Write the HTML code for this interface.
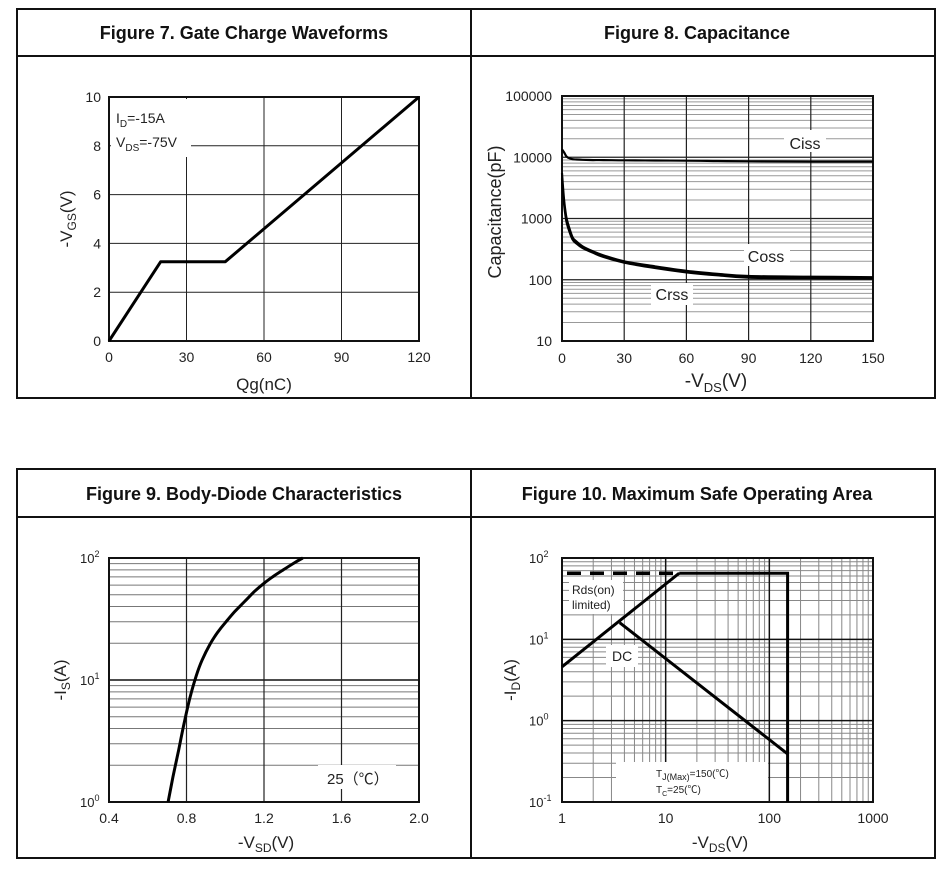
<!DOCTYPE html>
<html><head><meta charset="utf-8">
<style>
html,body{margin:0;padding:0;background:#fff;}
svg{display:block;font-family:"Liberation Sans","Noto Sans CJK SC",sans-serif;}
</style></head>
<body>
<svg id="root" width="952" height="886" viewBox="0 0 952 886" xmlns="http://www.w3.org/2000/svg">
<rect x="0" y="0" width="952" height="886" fill="#fff"/>
<g fill="none" stroke="#111" stroke-width="2">
<rect x="17" y="9" width="918" height="389"/>
<line x1="17" y1="56" x2="935" y2="56"/>
<line x1="471" y1="9" x2="471" y2="398"/>
</g>
<g fill="none" stroke="#111" stroke-width="2">
<rect x="17" y="469" width="918" height="389"/>
<line x1="17" y1="517" x2="935" y2="517"/>
<line x1="471" y1="469" x2="471" y2="858"/>
</g>
<g font-weight="bold" font-size="18" text-anchor="middle" fill="#111">
<text x="244" y="39">Figure 7. Gate Charge Waveforms</text>
<text x="697" y="39">Figure 8. Capacitance</text>
<text x="244" y="500">Figure 9. Body-Diode Characteristics</text>
<text x="697" y="500">Figure 10. Maximum Safe Operating Area</text>
</g>
<g id="c7"></g>
<g id="c8"></g>
<g id="c9"></g>
<g id="c10"></g>
</svg>
<script>
// ---- Figure 7 data ----
const qgTicks = [0, 30, 60, 90, 120];
const vgsTicks = [0, 2, 4, 6, 8, 10];
const qgValues = [0, 20, 45, 120];
const vgsValues = [0, 3.25, 3.25, 10];
// ---- Figure 8 data ----
const vdsTicks8 = [0, 30, 60, 90, 120, 150];
const capTicks = [10, 100, 1000, 10000, 100000];
const capTickLabels = ['10', '100', '1000', '10000', '100000'];
const capVds = [0, 1, 2, 3, 5, 7, 10, 15, 20, 30, 45, 60, 75, 90, 120, 150];
const cissValues = [13500, 12000, 10500, 9800, 9300, 9200, 9100, 9000, 9000, 8900, 8850, 8800, 8700, 8600, 8500, 8500];
const cossValues = [5500, 2000, 1100, 800, 500, 420, 350, 290, 250, 200, 165, 140, 125, 115, 112, 110];
const crssValues = [4500, 1700, 950, 700, 460, 390, 330, 275, 235, 190, 155, 132, 118, 108, 106, 105];
// ---- Figure 9 data ----
const vsdTicks = [0.4, 0.8, 1.2, 1.6, 2.0];
const isTicks = [1, 10, 100];
const isTickExp = ['0', '1', '2'];
const vsdValues = [0.705, 0.73, 0.76, 0.79, 0.82, 0.85, 0.88, 0.92, 0.96, 1.0, 1.05, 1.1, 1.15, 1.2, 1.25, 1.3, 1.35, 1.4];
const isValues = [1, 1.6, 2.7, 4.6, 7.4, 10.8, 14.5, 19.5, 24.5, 29.5, 36.5, 44, 53, 62, 71, 80, 90, 100];
// ---- Figure 10 data ----
const vdsTicks10 = [1, 10, 100, 1000];
const idTicks = [0.1, 1, 10, 100];
const idTickExp = ['-1', '0', '1', '2'];
const rdsVds = [1, 13.5];
const rdsId = [4.6, 65];
const limitVds = [13.5, 150, 150];
const limitId = [65, 65, 0.1];
const dashVds = [1, 13.5];
const dashId = [65, 65];
const dcVds = [3.6, 150];
const dcId = [16, 0.39];

const NS = 'http://www.w3.org/2000/svg';
function mk(parent, tag, attrs, text) {
  const e = document.createElementNS(NS, tag);
  for (const k in attrs) e.setAttribute(k, attrs[k]);
  if (text !== undefined) e.textContent = text;
  parent.appendChild(e);
  return e;
}
function linAxis(d0, d1, r0, r1) { return v => r0 + (v - d0) / (d1 - d0) * (r1 - r0); }
function logAxis(d0, d1, r0, r1) { return v => r0 + (Math.log10(v) - Math.log10(d0)) / (Math.log10(d1) - Math.log10(d0)) * (r1 - r0); }
function pathD(xs, ys, X, Y) { return xs.map((v, i) => (i ? 'L' : 'M') + X(v).toFixed(1) + ',' + Y(ys[i]).toFixed(1)).join(''); }
function smoothD(xs, ys, X, Y) {
  const p = xs.map((v, i) => [X(v), Y(ys[i])]);
  let d = 'M' + p[0][0].toFixed(1) + ',' + p[0][1].toFixed(1);
  for (let i = 0; i < p.length - 1; i++) {
    const p0 = p[i - 1] || p[i], p1 = p[i], p2 = p[i + 1], p3 = p[i + 2] || p2;
    const c1 = [p1[0] + (p2[0] - p0[0]) / 6, p1[1] + (p2[1] - p0[1]) / 6];
    const c2 = [p2[0] - (p3[0] - p1[0]) / 6, p2[1] - (p3[1] - p1[1]) / 6];
    d += 'C' + c1.map(n => n.toFixed(1)).join(',') + ' ' + c2.map(n => n.toFixed(1)).join(',') + ' ' + p2.map(n => n.toFixed(1)).join(',');
  }
  return d;
}
function line(g, x1, y1, x2, y2, col, w) { return mk(g, 'line', {x1, y1, x2, y2, stroke: col, 'stroke-width': w}); }
function minorLog(lo, hi) { const out = []; for (let d = lo; d < hi * 0.999; d *= 10) for (let m = 2; m <= 9; m++) out.push(d * m); return out; }

// ===== Figure 7 =====
(function () {
  const g = document.getElementById('c7');
  const L = 109, R = 419, T = 97, B = 341;
  const X = linAxis(0, 120, L, R), Y = linAxis(0, 10, B, T);
  qgTicks.slice(1, -1).forEach(v => line(g, X(v), T, X(v), B, '#222', 1));
  vgsTicks.slice(1, -1).forEach(v => line(g, L, Y(v), R, Y(v), '#222', 1));
  mk(g, 'rect', {x: 111, y: 99, width: 80, height: 58, fill: '#fff'});
  mk(g, 'rect', {x: L, y: T, width: R - L, height: B - T, fill: 'none', stroke: '#111', 'stroke-width': 2});
  qgTicks.forEach(v => {
    const t = mk(g, 'text', {x: X(v), y: 362, 'font-size': 14, 'text-anchor': 'middle', fill: '#222'}, String(v));
    
    
  });
  vgsTicks.forEach(v => {
    const t = mk(g, 'text', {x: 101, y: Y(v) + 5, 'font-size': 14, 'text-anchor': 'end', fill: '#222'}, String(v));
    
    
  });
  const p = mk(g, 'path', {d: pathD(qgValues, vgsValues, X, Y), fill: 'none', stroke: '#000', 'stroke-width': 3, 'stroke-linejoin': 'round'});
  
  
  const a = mk(g, 'text', {x: 116, y: 123, 'font-size': 14, fill: '#222'});
  a.innerHTML = 'I<tspan dy="4" font-size="10">D</tspan><tspan dy="-4">=-15A</tspan>';
  
  
  const b = mk(g, 'text', {x: 116, y: 147, 'font-size': 14, fill: '#222'});
  b.innerHTML = 'V<tspan dy="4" font-size="10">DS</tspan><tspan dy="-4">=-75V</tspan>';
  
  
  const xt = mk(g, 'text', {x: 264, y: 390, 'font-size': 17, 'text-anchor': 'middle', fill: '#222'}, 'Qg(nC)');
  
  
  const yt = mk(g, 'text', {transform: 'translate(72,219) rotate(-90)', 'font-size': 17, 'text-anchor': 'middle', fill: '#222'});
  yt.innerHTML = '-V<tspan dy="4" font-size="12">GS</tspan><tspan dy="-4">(V)</tspan>';
  
  
})();

// ===== Figure 8 =====
(function () {
  const g = document.getElementById('c8');
  const L = 562, R = 873, T = 96, B = 341;
  const X = linAxis(0, 150, L, R), Y = logAxis(10, 100000, B, T);
  minorLog(10, 100000).forEach(v => line(g, L, Y(v), R, Y(v), '#999', 1));
  capTicks.slice(1, -1).forEach(v => line(g, L, Y(v), R, Y(v), '#222', 1.2));
  vdsTicks8.slice(1, -1).forEach(v => line(g, X(v), T, X(v), B, '#222', 1.2));
  mk(g, 'rect', {x: 784, y: 130, width: 42, height: 22, fill: '#fff'});
  mk(g, 'rect', {x: 744, y: 244, width: 46, height: 22, fill: '#fff'});
  mk(g, 'rect', {x: 651, y: 283, width: 42, height: 22, fill: '#fff'});
  mk(g, 'rect', {x: L, y: T, width: R - L, height: B - T, fill: 'none', stroke: '#111', 'stroke-width': 2});
  vdsTicks8.forEach(v => {
    const t = mk(g, 'text', {x: X(v), y: 363, 'font-size': 14, 'text-anchor': 'middle', fill: '#222'}, String(v));
    
    
  });
  capTicks.forEach((v, i) => {
    const t = mk(g, 'text', {x: 552, y: Y(v) + 5, 'font-size': 14, 'text-anchor': 'end', fill: '#222'}, capTickLabels[i]);
    
    
  });
  const series = [[cissValues, 'ciss-curve'], [cossValues, 'coss-curve'], [crssValues, 'crss-curve']];
  series.forEach(s => {
    const p = mk(g, 'path', {d: smoothD(capVds, s[0], X, Y), fill: 'none', stroke: '#000', 'stroke-width': 2.2, 'stroke-linejoin': 'round'});
    
    
  });
  [['Ciss', 805, 149, 'ciss-label'], ['Coss', 766, 262, 'coss-label'], ['Crss', 672, 300, 'crss-label']].forEach(l => {
    const t = mk(g, 'text', {x: l[1], y: l[2], 'font-size': 16, 'text-anchor': 'middle', fill: '#222'}, l[0]);
    
    
  });
  const xt = mk(g, 'text', {x: 716, y: 387, 'font-size': 19, 'text-anchor': 'middle', fill: '#222'});
  xt.innerHTML = '-V<tspan dy="5" font-size="13">DS</tspan><tspan dy="-5">(V)</tspan>';
  
  
  const yt = mk(g, 'text', {transform: 'translate(501,212) rotate(-90)', 'font-size': 18, 'text-anchor': 'middle', fill: '#222'}, 'Capacitance(pF)');
  
  
})();

// ===== Figure 9 =====
(function () {
  const g = document.getElementById('c9');
  const L = 109, R = 419, T = 558, B = 802;
  const X = linAxis(0.4, 2.0, L, R), Y = logAxis(1, 100, B, T);
  minorLog(1, 100).forEach(v => line(g, L, Y(v), R, Y(v), '#777', 1));
  isTicks.slice(1, -1).forEach(v => line(g, L, Y(v), R, Y(v), '#111', 1.5));
  vsdTicks.slice(1, -1).forEach(v => line(g, X(v), T, X(v), B, '#222', 1.2));
  mk(g, 'rect', {x: 318, y: 765, width: 78, height: 24, fill: '#fff'});
  mk(g, 'rect', {x: L, y: T, width: R - L, height: B - T, fill: 'none', stroke: '#111', 'stroke-width': 2});
  vsdTicks.forEach(v => {
    const t = mk(g, 'text', {x: X(v), y: 823, 'font-size': 14, 'text-anchor': 'middle', fill: '#222'}, v.toFixed(1));
    
    
  });
  isTicks.forEach((v, i) => {
    const t = mk(g, 'text', {x: 80, y: Y(v) + 5, 'font-size': 13, fill: '#222'});
    t.innerHTML = '10<tspan dy="-6" font-size="9">' + isTickExp[i] + '</tspan>';
    
    
  });
  const p = mk(g, 'path', {d: smoothD(vsdValues, isValues, X, Y), fill: 'none', stroke: '#000', 'stroke-width': 3, 'stroke-linejoin': 'round'});
  
  
  const a = mk(g, 'text', {x: 327, y: 784, 'font-size': 15, fill: '#222'}, '25（℃）');
  
  
  const xt = mk(g, 'text', {x: 266, y: 848, 'font-size': 17, 'text-anchor': 'middle', fill: '#222'});
  xt.innerHTML = '-V<tspan dy="4" font-size="12">SD</tspan><tspan dy="-4">(V)</tspan>';
  
  
  const yt = mk(g, 'text', {transform: 'translate(66,680) rotate(-90)', 'font-size': 17, 'text-anchor': 'middle', fill: '#222'});
  yt.innerHTML = '-I<tspan dy="4" font-size="12">S</tspan><tspan dy="-4">(A)</tspan>';
  
  
})();

// ===== Figure 10 =====
(function () {
  const g = document.getElementById('c10');
  const L = 562, R = 873, T = 558, B = 802;
  const X = logAxis(1, 1000, L, R), Y = logAxis(0.1, 100, B, T);
  minorLog(0.1, 100).forEach(v => line(g, L, Y(v), R, Y(v), '#888', 1));
  minorLog(1, 1000).forEach(v => line(g, X(v), T, X(v), B, '#888', 1));
  idTicks.slice(1, -1).forEach(v => line(g, L, Y(v), R, Y(v), '#111', 1.5));
  vdsTicks10.slice(1, -1).forEach(v => line(g, X(v), T, X(v), B, '#111', 1.5));
  mk(g, 'rect', {x: 569, y: 580, width: 54, height: 34, fill: '#fff'});
  mk(g, 'rect', {x: 606, y: 645, width: 32, height: 22, fill: '#fff'});
  mk(g, 'rect', {x: 616, y: 762, width: 152, height: 39, fill: '#fff'});
  mk(g, 'rect', {x: L, y: T, width: R - L, height: B - T, fill: 'none', stroke: '#111', 'stroke-width': 2});
  vdsTicks10.forEach(v => {
    const t = mk(g, 'text', {x: X(v), y: 823, 'font-size': 14, 'text-anchor': 'middle', fill: '#222'}, String(v));
    
    
  });
  idTicks.forEach((v, i) => {
    const t = mk(g, 'text', {x: 529, y: Y(v) + 5, 'font-size': 13, fill: '#222'});
    t.innerHTML = '10<tspan dy="-6" font-size="9">' + idTickExp[i] + '</tspan>';
    
    
  });
  const d = mk(g, 'path', {d: pathD(dashVds, dashId, X, Y), fill: 'none', stroke: '#000', 'stroke-width': 3.5, 'stroke-dasharray': '14,9', 'stroke-dashoffset': '-5'});
  
  
  const r = mk(g, 'path', {d: pathD(rdsVds, rdsId, X, Y), fill: 'none', stroke: '#000', 'stroke-width': 3});
  
  
  const lim = mk(g, 'path', {d: pathD(limitVds, limitId, X, Y), fill: 'none', stroke: '#000', 'stroke-width': 3});
  
  
  const dc = mk(g, 'path', {d: pathD(dcVds, dcId, X, Y), fill: 'none', stroke: '#000', 'stroke-width': 3});
  
  
  [['Rds(on)', 572, 594, 12, 'rds-on-label'], ['limited)', 572, 609, 12, 'limited-label'], ['DC', 612, 661, 14, 'dc-label']].forEach(l => {
    const t = mk(g, 'text', {x: l[1], y: l[2], 'font-size': l[3], fill: '#222'}, l[0]);
    
    
  });
  const tj = mk(g, 'text', {x: 656, y: 777, 'font-size': 10, fill: '#222'});
  tj.innerHTML = 'T<tspan dy="3" font-size="9">J(Max)</tspan><tspan dy="-3">=150(℃)</tspan>';
  
  
  const tc = mk(g, 'text', {x: 656, y: 793, 'font-size': 10, fill: '#222'});
  tc.innerHTML = 'T<tspan dy="3" font-size="7">C</tspan><tspan dy="-3">=25(℃)</tspan>';
  
  
  const xt = mk(g, 'text', {x: 720, y: 848, 'font-size': 17, 'text-anchor': 'middle', fill: '#222'});
  xt.innerHTML = '-V<tspan dy="4" font-size="12">DS</tspan><tspan dy="-4">(V)</tspan>';
  
  
  const yt = mk(g, 'text', {transform: 'translate(516,680) rotate(-90)', 'font-size': 17, 'text-anchor': 'middle', fill: '#222'});
  yt.innerHTML = '-I<tspan dy="4" font-size="12">D</tspan><tspan dy="-4">(A)</tspan>';
  
  
})();
</script>
</body></html>
